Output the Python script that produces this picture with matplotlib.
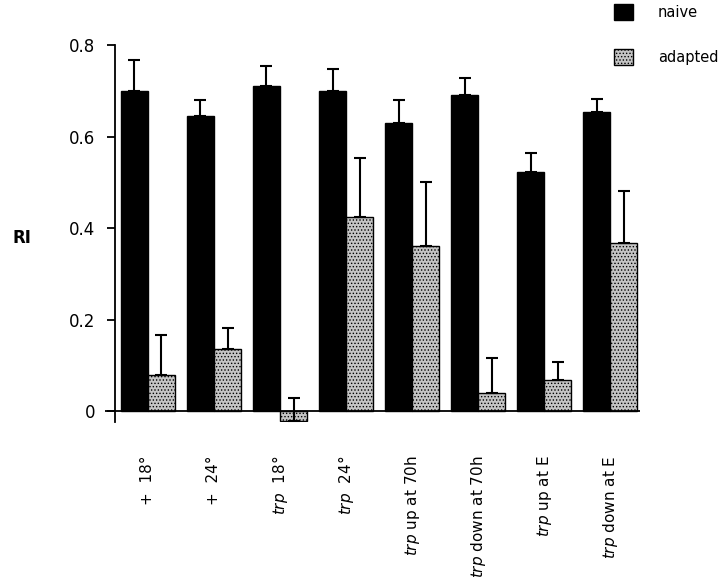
import numpy as np
import matplotlib
matplotlib.use('Agg')
from matplotlib import pyplot as plt

# data
groups = [r'+  18°', r'+  24°', r'$\it{trp}$  18°', r'$\it{trp}$  24°',
          r'$\it{trp}$ up at 70h', r'$\it{trp}$ down at 70h',
          r'$\it{trp}$ up at E', r'$\it{trp}$ down at E']
naive = [0.70, 0.644, 0.71, 0.70, 0.63, 0.69, 0.523, 0.653]
naive_err = [0.067, 0.036, 0.044, 0.047, 0.05, 0.037, 0.04, 0.028]
adapted = [0.079, 0.136, -0.022, 0.424, 0.36, 0.04, 0.068, 0.367]
adapted_err = [0.088, 0.046, 0.05, 0.128, 0.14, 0.076, 0.04, 0.113]

plt.rcParams['font.family'] = 'DejaVu Sans'
plt.rcParams['mathtext.fontset'] = 'dejavusans'
plt.rcParams['hatch.color'] = '#555555'
plt.rcParams['hatch.linewidth'] = 0.6

fig = plt.figure(figsize=(7.2, 5.79), dpi=100)
ax = fig.add_axes([105 / 720, 1 - 422 / 579, 535 / 720, 377 / 579])

x = np.arange(len(groups))
w = 0.41

ax.bar(x - w / 2, naive, w, color='black', edgecolor='black', label='naive')
ax.bar(x + w / 2, adapted, w, color='#c4c4c4', edgecolor='black',
       linewidth=1.0, hatch='.....', label='adapted')

# one-sided (upper) error bars
ax.errorbar(x - w / 2, naive, yerr=[np.zeros(8), naive_err], fmt='none',
            ecolor='black', elinewidth=1.5, capsize=4.5, capthick=1.5)
ax.errorbar(x + w / 2, adapted, yerr=[np.zeros(8), adapted_err], fmt='none',
            ecolor='black', elinewidth=1.5, capsize=4.5, capthick=1.5)

ax.set_xlim(-0.65, 7.45)
ax.set_ylim(-0.024, 0.8)

ax.spines['top'].set_visible(False)
ax.spines['right'].set_visible(False)
ax.spines['bottom'].set_visible(False)
ax.spines['left'].set_position(('data', -0.5))
ax.spines['left'].set_linewidth(1.3)
ax.axhline(0, color='black', linewidth=1.3)

ax.set_yticks([0, 0.2, 0.4, 0.6, 0.8])
ax.set_yticklabels(['0', '0.2', '0.4', '0.6', '0.8'], fontsize=12)
ax.tick_params(axis='y', length=6, width=1.3, direction='out', pad=8)

ax.set_xticks(x)
ax.set_xticklabels(groups, rotation=90, fontsize=11, va='top', ha='center')
ax.tick_params(axis='x', length=0, pad=24)

fig.text(12 / 720, 1 - 238 / 579, 'RI', fontsize=12, fontweight='bold',
         va='center', ha='left')

ax.legend(loc='upper right', bbox_to_anchor=(1.016, 1.015),
          bbox_transform=fig.transFigure, frameon=False, fontsize=10.5,
          handlelength=1.3, handleheight=1.3, labelspacing=1.95,
          handletextpad=1.7)

fig.savefig('out.png', dpi=100)
